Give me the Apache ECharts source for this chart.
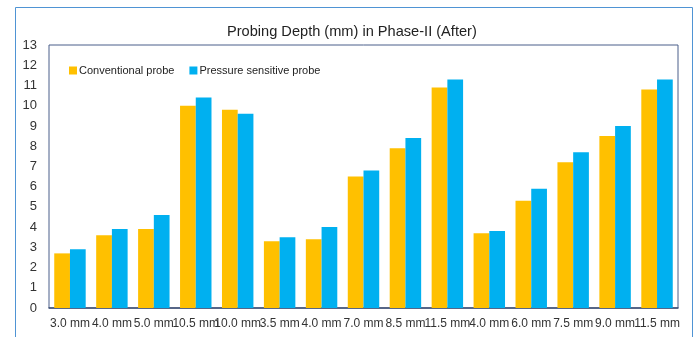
<!DOCTYPE html>
<html>
<head>
<meta charset="utf-8">
<script src="https://cdn.jsdelivr.net/npm/echarts@6/dist/echarts.min.js"></script>
<style>
  html, body { margin: 0; padding: 0; background: #fff; }
  #chart { width: 695px; height: 337px; }
</style>
</head>
<body>
<div id="chart"></div>
<script>
// Probe sites (category labels along the x axis)
const categories = ['3.0 mm', '4.0 mm', '5.0 mm', '10.5 mm', '10.0 mm', '3.5 mm', '4.0 mm',
  '7.0 mm', '8.5 mm', '11.5 mm', '4.0 mm', '6.0 mm', '7.5 mm', '9.0 mm', '11.5 mm'];

// Measured probing depth (mm)
const conventional = [2.7, 3.6, 3.9, 10.0, 9.8, 3.3, 3.4, 6.5, 7.9, 10.9, 3.7, 5.3, 7.2, 8.5, 10.8];
const pressureSensitive = [2.9, 3.9, 4.6, 10.4, 9.6, 3.5, 4.0, 6.8, 8.4, 11.3, 3.8, 5.9, 7.7, 9.0, 11.3];

const yTicks = { min: 0, max: 13, interval: 1 };

const narrow = '"Liberation Sans Narrow", "Liberation Sans", Arial, sans-serif';

const chart = echarts.init(document.getElementById('chart'));
chart.setOption({
  animation: false,
  backgroundColor: '#fff',
  title: {
    text: 'Probing Depth (mm) in Phase-II (After)',
    left: 222,
    top: 19,
    textStyle: { fontFamily: '"Liberation Sans", Arial, sans-serif', fontSize: 14.6, fontWeight: 'normal', color: '#222' }
  },
  graphic: [{
    type: 'rect',
    shape: { x: 15.5, y: 7.5, width: 677, height: 340 },
    style: { fill: 'none', stroke: '#4f94d4', lineWidth: 1 },
    silent: true
  }],
  legend: {
    left: 64,
    top: 60,
    itemWidth: 8,
    itemHeight: 8,
    itemGap: 15,
    icon: 'rect',
    textStyle: { fontFamily: narrow, fontSize: 11, color: '#222', padding: [0, 0, 0, -3] },
    data: ['Conventional probe', 'Pressure sensitive probe']
  },
  grid: {
    left: 49, top: 45, right: 17, bottom: 29,
    show: true, borderColor: '#4a5f8a', borderWidth: 1, backgroundColor: 'transparent'
  },
  xAxis: {
    type: 'category',
    data: categories,
    axisLine: { show: true, lineStyle: { color: '#3d4f73', width: 1.5 } },
    axisTick: { show: false },
    axisLabel: { interval: 0, fontFamily: narrow, fontSize: 12, color: '#333', margin: 10 }
  },
  yAxis: {
    type: 'value',
    min: yTicks.min, max: yTicks.max, interval: yTicks.interval,
    splitLine: { show: false },
    axisLine: { show: false },
    axisTick: { show: false },
    axisLabel: { fontFamily: narrow, fontSize: 13, color: '#333', margin: 12 }
  },
  series: [
    {
      name: 'Conventional probe', type: 'bar', data: conventional,
      itemStyle: { color: '#FFC000' }, barGap: '0%', barCategoryGap: '25%'
    },
    {
      name: 'Pressure sensitive probe', type: 'bar', data: pressureSensitive,
      itemStyle: { color: '#00B0F0' }, barGap: '0%', barCategoryGap: '25%'
    }
  ]
});
</script>
</body>
</html>
